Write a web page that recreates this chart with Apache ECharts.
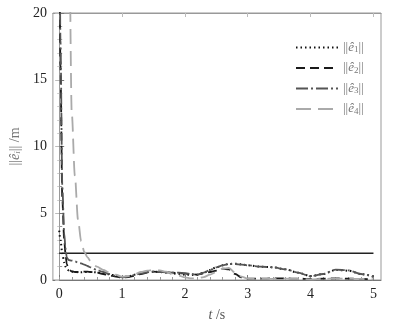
<!DOCTYPE html>
<html>
<head>
<meta charset="utf-8">
<script src="https://cdn.jsdelivr.net/npm/echarts@6/dist/echarts.min.js"></script>
<style>
  html, body { margin: 0; padding: 0; background: #fff; }
  #chart { width: 409px; height: 327px; }
</style>
</head>
<body>
<div id="chart"></div>
<script>
// time samples (s)
var T = [0, 0.02, 0.05, 0.08, 0.1, 0.12, 0.15, 0.2, 0.25, 0.3, 0.35, 0.4, 0.45, 0.5,
  0.6, 0.7, 0.8, 0.9, 1.0, 1.1, 1.2, 1.3, 1.4, 1.5, 1.6, 1.7, 1.8, 1.9, 2.0,
  2.1, 2.2, 2.3, 2.4, 2.5, 2.6, 2.7, 2.8, 2.9, 3.0, 3.2, 3.4, 3.6, 3.8, 4.0,
  4.2, 4.4, 4.6, 4.8, 5.0];

// ||e_i|| values (m)
var e1 = [3.7, 3.0, 2.0, 1.3, 1.0, 0.85, 0.72, 0.62, 0.6, 0.58, 0.58, 0.6, 0.6, 0.6,
  0.58, 0.5, 0.42, 0.32, 0.22, 0.28, 0.4, 0.52, 0.6, 0.62, 0.6, 0.55, 0.5, 0.45, 0.4,
  0.38, 0.4, 0.55, 0.75, 0.95, 1.1, 1.2, 1.22, 1.18, 1.1, 1.0, 0.95, 0.8, 0.55, 0.3,
  0.45, 0.75, 0.7, 0.45, 0.25];
var e2 = [30, 16, 6, 3, 2.0, 1.2, 0.8, 0.65, 0.6, 0.6, 0.6, 0.62, 0.62, 0.6,
  0.55, 0.45, 0.35, 0.25, 0.18, 0.22, 0.32, 0.45, 0.55, 0.62, 0.6, 0.58, 0.55, 0.5, 0.48,
  0.45, 0.4, 0.5, 0.6, 0.7, 0.85, 0.8, 0.45, 0.2, 0.1, 0.1, 0.12, 0.12, 0.1, 0.08,
  0.1, 0.12, 0.1, 0.08, 0.05];
var e3 = [35, 18, 7, 3.5, 2.4, 1.7, 1.5, 1.45, 1.4, 1.3, 1.25, 1.15, 1.05, 0.95,
  0.75, 0.6, 0.45, 0.32, 0.2, 0.25, 0.38, 0.5, 0.58, 0.62, 0.6, 0.58, 0.55, 0.55, 0.52,
  0.45, 0.4, 0.55, 0.75, 0.95, 1.1, 1.2, 1.2, 1.15, 1.1, 1.0, 0.95, 0.8, 0.55, 0.28,
  0.45, 0.78, 0.72, 0.45, 0.25];
var e4 = [60, 55, 48, 44, 40, 36, 30, 12.5, 7.8, 4.5, 2.9, 2.1, 1.7, 1.4,
  1.0, 0.75, 0.55, 0.4, 0.25, 0.3, 0.45, 0.6, 0.7, 0.75, 0.72, 0.62, 0.48, 0.33, 0.2,
  0.12, 0.12, 0.22, 0.4, 0.6, 0.85, 0.9, 0.55, 0.25, 0.1, 0.08, 0.08, 0.1, 0.08, 0.05,
  0.08, 0.12, 0.1, 0.08, 0.05];

// reference bound
var boundT = [0, 5];
var boundV = [2, 2];

var xTicks = [0, 1, 2, 3, 4, 5];
var names = ['e1', 'e2', 'e3', 'e4'];

function pairs(xs, ys) {
  return xs.map(function (x, i) { return [x, ys[i]]; });
}

var xMinor = [];
for (var v = 0; v <= 5.01; v += 0.2) xMinor.push(+v.toFixed(1));

var serif = 'Liberation Serif';
var chart = echarts.init(document.getElementById('chart'));

function lineSeries(name, data, color, width, dash) {
  return {
    name: name,
    type: 'line',
    data: data,
    showSymbol: false,
    symbol: 'none',
    smooth: 0.3,
    smoothMonotone: 'x',
    clip: true,
    lineStyle: { color: color, width: width, type: dash },
    itemStyle: { color: color },
    z: 3
  };
}

chart.setOption({
  animation: false,
  backgroundColor: '#fff',
  grid: { left: 44, top: 13, right: 28, bottom: 44, show: true, borderColor: '#999', borderWidth: 1 },
  legend: {
    orient: 'vertical',
    left: 290,
    top: 36,
    itemWidth: 42,
    itemHeight: 12,
    itemGap: 7,
    data: names,
    itemStyle: { opacity: 0 },
    formatter: function (n) {
      return '||{i|ê}{s|' + n.charAt(1) + '}||';
    },
    textStyle: {
      fontFamily: serif, fontSize: 13, color: '#777',
      rich: {
        i: { fontFamily: serif, fontStyle: 'italic', fontSize: 13, color: '#777' },
        s: { fontFamily: serif, fontSize: 9, color: '#777', padding: [5, 0, 0, 0] }
      }
    }
  },
  xAxis: [
    {
      type: 'value', min: -0.1, max: 5.12, position: 'bottom',
      name: '{i|t} /s', nameLocation: 'middle', nameGap: 28,
      nameTextStyle: {
        fontFamily: serif, fontSize: 14, color: '#555',
        rich: { i: { fontFamily: serif, fontStyle: 'italic', fontSize: 14, color: '#555' } }
      },
      axisLine: { lineStyle: { color: '#777', width: 1 } },
      axisTick: { inside: true, length: 5, customValues: xTicks, lineStyle: { color: '#777' } },
      axisLabel: { customValues: xTicks, fontFamily: serif, fontSize: 14, color: '#222', margin: 7 },
      splitLine: { show: false }
    },
    {
      type: 'value', min: -0.1, max: 5.12, position: 'bottom',
      axisLine: { show: false },
      axisTick: { inside: true, length: 3, customValues: xMinor, lineStyle: { color: '#999' } },
      axisLabel: { show: false },
      splitLine: { show: false }
    },
    {
      type: 'value', min: -0.1, max: 5.12, position: 'top',
      axisLine: { lineStyle: { color: '#999' } },
      axisTick: { inside: true, length: 4, customValues: xTicks, lineStyle: { color: '#bbb' } },
      axisLabel: { show: false },
      splitLine: { show: false }
    }
  ],
  yAxis: [
    {
      type: 'value', min: 0, max: 20, interval: 5, position: 'left',
      name: '||{i|ê}{s|i}|| /m', nameLocation: 'middle', nameGap: 23, nameRotate: 90,
      nameTextStyle: {
        fontFamily: serif, fontSize: 14, color: '#777',
        rich: {
          i: { fontFamily: serif, fontStyle: 'italic', fontSize: 14, color: '#777' },
          s: { fontFamily: serif, fontStyle: 'italic', fontSize: 9, color: '#777', padding: [5, 0, 0, 0] }
        }
      },
      axisLine: { lineStyle: { color: '#777', width: 1 } },
      axisTick: { inside: true, length: 5, lineStyle: { color: '#777' } },
      minorTick: { show: true, splitNumber: 5, length: 3, lineStyle: { color: '#999' } },
      axisLabel: { fontFamily: serif, fontSize: 14, color: '#222', margin: 6 },
      splitLine: { show: false },
      minorSplitLine: { show: false }
    },
    {
      type: 'value', min: 0, max: 20, interval: 5, position: 'right',
      axisLine: { show: true, lineStyle: { color: '#999' } },
      axisTick: { inside: true, length: 4, lineStyle: { color: '#bbb' } },
      minorTick: { show: true, splitNumber: 5, length: 2, lineStyle: { color: '#ccc' } },
      axisLabel: { show: false },
      splitLine: { show: false }
    }
  ],
  series: [
    lineSeries(names[0], pairs(T, e1), '#111', 2, [1.5, 3]),
    lineSeries(names[1], pairs(T, e2), '#1a1a1a', 1.8, [9, 5]),
    lineSeries(names[2], pairs(T, e3), '#555', 1.8, [12, 3, 2, 3]),
    lineSeries(names[3], pairs(T, e4), '#aaa', 1.8, [15, 7]),
    {
      name: 'bound',
      type: 'line',
      data: pairs(boundT, boundV),
      showSymbol: false,
      symbol: 'none',
      lineStyle: { color: '#222', width: 1.6 },
      z: 2
    }
  ]
});
</script>
</body>
</html>
